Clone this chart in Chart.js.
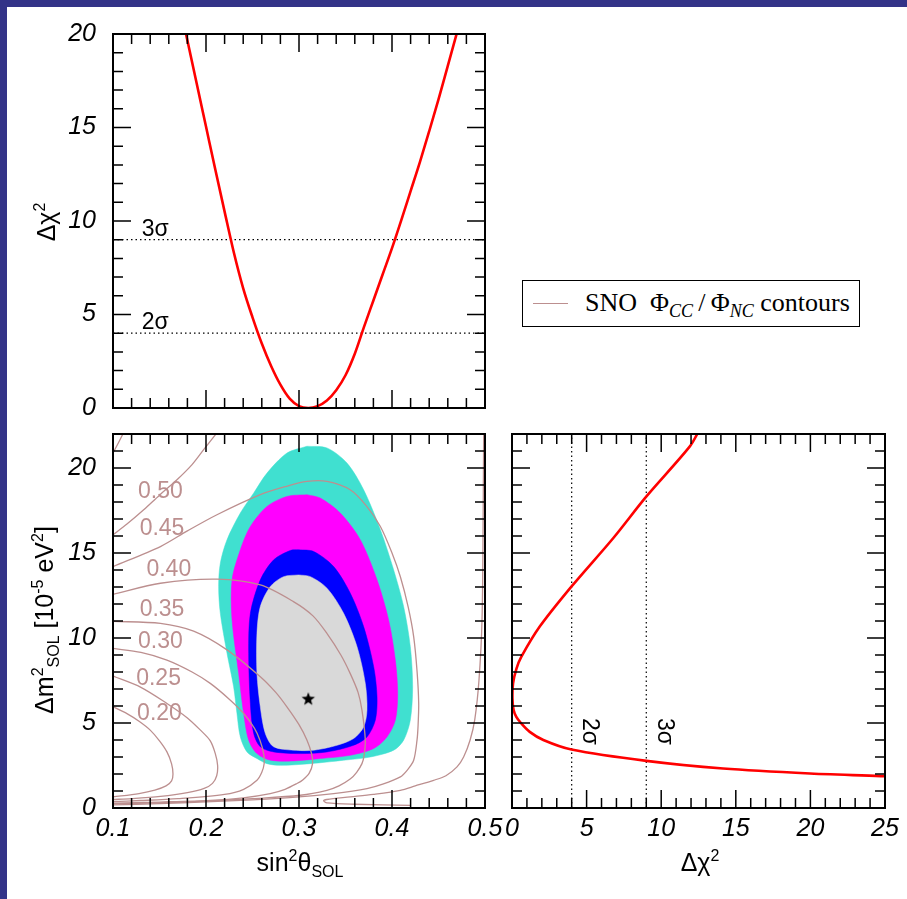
<!DOCTYPE html>
<html>
<head>
<meta charset="utf-8">
<script src="https://cdn.jsdelivr.net/npm/chart.js@4.4.0/dist/chart.umd.min.js"></script>
<style>
  html, body { margin: 0; padding: 0; }
  body { width: 907px; height: 899px; background: #333388; position: relative; overflow: hidden;
         font-family: "Liberation Sans", Arial, sans-serif; }
  #sheet { position: absolute; left: 7px; top: 7px; right: 0; bottom: 0; background: #fff; }
  canvas { position: absolute; }
  .lbl { position: absolute; font-size: 25px; color: #000; white-space: nowrap; line-height: 1; }
  .mid { transform: translate(-50%, -50%); }
  .rot { transform: translate(-50%, -50%) rotate(-90deg); }
  .lbl sup, .lbl sub { font-size: 16px; line-height: 0; }
  #legend { position: absolute; left: 522px; top: 280px; width: 338px; height: 47px; box-sizing: border-box;
            border: 1.5px solid #000; background: #fff; }
  #legend .swatch { position: absolute; left: 10px; top: 22px; width: 35px; border-top: 1px solid #bc8f8f; }
  #legend .txt { position: absolute; left: 62px; top: 6px; font-family: "Liberation Serif", "Times New Roman", serif;
                 font-size: 26px; white-space: nowrap; line-height: 1.2; }
  #legend sub { font-size: 18px; font-style: italic; line-height: 0; }
</style>
</head>
<body>
<div id="sheet"></div>
<canvas id="chiTheta" width="500" height="420" style="left:0;top:0"></canvas>
<canvas id="plane" width="520" height="479" style="left:0;top:420px"></canvas>
<canvas id="chiMass" width="417" height="479" style="left:490px;top:420px"></canvas>

<div class="lbl rot" style="left:46px;top:222px">&Delta;&chi;<sup>2</sup></div>
<div class="lbl rot" style="left:44px;top:620px">&Delta;m<sup>2</sup><sub>SOL</sub> [10<sup>-5</sup> eV<sup>2</sup>]</div>
<div class="lbl mid" style="left:300px;top:862px">sin<sup>2</sup>&theta;<sub>SOL</sub></div>
<div class="lbl mid" style="left:700px;top:862px">&Delta;&chi;<sup>2</sup></div>
<div id="legend"><span class="swatch"></span><span class="txt">SNO&nbsp; &Phi;<sub>CC</sub>&thinsp;/&thinsp;&Phi;<sub>NC</sub> contours</span></div>

<script>
// Δχ² profile versus sin²θ
const sinGrid = [0.1785, 0.19, 0.20, 0.21, 0.22, 0.23, 0.24, 0.25, 0.26, 0.27, 0.28, 0.29, 0.30, 0.31,
                 0.32, 0.33, 0.34, 0.35, 0.36, 0.37, 0.38, 0.39, 0.40, 0.41, 0.42, 0.43, 0.44, 0.45, 0.46, 0.47];
const chiTheta = [20, 17.35, 15.05, 12.75, 10.5, 8.3, 6.4, 4.85, 3.45, 2.25, 1.25, 0.5, 0.1, 0.0,
                  0.1, 0.4, 0.95, 1.75, 2.9, 4.35, 5.75, 7.15, 8.55, 10.05, 11.6, 13.15, 14.8, 16.5, 18.3, 20.1];

// Δχ² profile versus Δm²
const massGrid = [1.87, 2.03, 2.32, 2.77, 3.44, 4.0, 4.48, 5.0, 5.36, 5.8, 6.45, 7.33, 8.2, 8.9,
                  10.67, 13.02, 15.87, 18.33, 21.27, 22.3];
const chiMass = [25, 19.97, 14.15, 9.01, 3.98, 2.1, 1.19, 0.6, 0.29, 0.1, 0.03, 0.07, 0.3, 0.63,
                 1.86, 3.98, 6.78, 9.01, 11.92, 12.6];

const sigmaLevels = [4, 9];
const sigmaNames = ['2\u03c3', '3\u03c3'];

// allowed regions, outer to inner: [sin²θ, Δm²]
const region3 = [[0.3086,21.28],[0.33,21.18],[0.3516,20.29],[0.3695,18.72],[0.3875,16.37],[0.4018,14.0],
  [0.4125,11.85],[0.4197,9.49],[0.4222,7.13],[0.4197,5.17],[0.4125,3.99],[0.4018,3.4],[0.3767,3.0],
  [0.348,2.81],[0.3122,2.61],[0.28,2.51],[0.2656,2.61],[0.2548,2.91],[0.2441,3.3],[0.2369,4.18],
  [0.2333,5.56],[0.2297,7.13],[0.2226,9.1],[0.2154,11.45],[0.2136,13.03],[0.2154,14.4],[0.2226,15.78],
  [0.2369,17.35],[0.2513,18.53],[0.2656,19.7],[0.2871,20.88],[0.3086,21.28]];
const region2 = [[0.3086,18.43],[0.3229,18.23],[0.3444,17.35],[0.3659,15.78],[0.3839,13.42],[0.3964,11.06],
  [0.4036,8.7],[0.4061,6.74],[0.4036,5.17],[0.3946,4.18],[0.3803,3.5],[0.3552,3.1],[0.3229,2.91],
  [0.2943,2.77],[0.2692,2.81],[0.2548,3.2],[0.2459,3.99],[0.2405,5.56],[0.2351,7.92],[0.228,11.06],
  [0.228,13.42],[0.2369,15.19],[0.2477,16.56],[0.2656,17.74],[0.2871,18.33],[0.3086,18.43]];
const region1 = [[0.2996,15.19],[0.3158,15.09],[0.3373,14.2],[0.3552,12.63],[0.3695,10.67],[0.3803,8.31],
  [0.3839,6.54],[0.3821,5.17],[0.3731,4.18],[0.3588,3.69],[0.3301,3.3],[0.3014,3.2],[0.2728,3.3],
  [0.2584,3.6],[0.2513,4.38],[0.2477,6.15],[0.2459,9.1],[0.2477,11.45],[0.2584,13.42],[0.2728,14.6],
  [0.2907,15.15],[0.2996,15.19]];
const region0 = [[0.2996,13.71],[0.3122,13.61],[0.3301,12.93],[0.348,11.45],[0.3624,9.49],[0.3713,7.33],
  [0.3731,5.76],[0.3695,4.77],[0.3588,4.09],[0.3409,3.69],[0.3158,3.4],[0.2943,3.4],[0.2728,3.6],
  [0.2638,4.38],[0.2584,5.95],[0.2548,7.92],[0.2548,10.28],[0.2584,11.85],[0.2692,13.03],[0.2835,13.61],
  [0.2996,13.71]];
const bestFit = [0.31, 6.4];

// SNO CC/NC ratio contours: [sin²θ, Δm²]
const c020 = [[0.1,5.95],[0.115,5.55],[0.128,5.1],[0.14,4.58],[0.15,3.95],[0.158,3.3],[0.163,2.6],[0.1645,2.0],
  [0.163,1.6],[0.157,1.3],[0.145,1.05],[0.128,0.85],[0.1,0.65]];
const c025 = [[0.1,7.76],[0.13,7.1],[0.158,6.15],[0.18,5.3],[0.194,4.58],[0.2046,3.95],[0.21,3.2],[0.2125,2.5],
  [0.2115,1.9],[0.207,1.45],[0.198,1.15],[0.18,0.9],[0.151,0.68],[0.12,0.55],[0.1,0.5]];
const c030 = [[0.1,9.39],[0.13,9.15],[0.158,8.7],[0.185,8.0],[0.2046,7.33],[0.225,6.4],[0.2405,5.56],[0.252,4.7],
  [0.258,3.99],[0.262,3.2],[0.2625,2.6],[0.26,2.1],[0.2548,1.63],[0.2405,1.1],[0.22,0.8],[0.17,0.55],
  [0.13,0.44],[0.1,0.38]];
const c035 = [[0.1,10.98],[0.151,10.86],[0.1867,10.4],[0.2226,9.3],[0.2584,7.72],[0.275,6.8],[0.287,5.95],
  [0.3,4.9],[0.3086,3.99],[0.3135,3.2],[0.3145,2.6],[0.311,2.05],[0.304,1.65],[0.2978,1.44],[0.285,1.1],
  [0.2691,0.85],[0.24,0.6],[0.2046,0.45],[0.15,0.35],[0.1,0.28]];
const c040 = [[0.1,12.57],[0.151,13.22],[0.2118,13.46],[0.2584,13.12],[0.294,12.14],[0.315,11.3],[0.33,10.27],
  [0.345,9.0],[0.355,7.92],[0.3635,6.8],[0.3677,5.76],[0.3713,3.99],[0.37,3.1],[0.3677,2.61],[0.362,2.1],
  [0.355,1.7],[0.343,1.3],[0.33,1.04],[0.3014,0.75],[0.25,0.55],[0.2,0.4],[0.15,0.3],[0.1,0.24]];
const c045 = [[0.1,14.2],[0.151,15.38],[0.18,16.3],[0.2118,17.25],[0.2584,18.43],[0.285,18.9],[0.3086,19.21],
  [0.33,19.21],[0.355,18.72],[0.372,17.8],[0.3875,16.56],[0.4,15.0],[0.409,13.6],[0.4175,11.8],[0.4233,10.08],
  [0.427,8.0],[0.4287,6.15],[0.428,4.8],[0.4269,3.99],[0.4233,2.81],[0.416,2.2],[0.409,1.83],[0.39,1.4],
  [0.3731,1.14],[0.3372,0.85],[0.3,0.65],[0.25,0.48],[0.2,0.36],[0.15,0.26],[0.1,0.18]];
const c050 = [[0.1,16.07],[0.115,16.7],[0.133,17.54],[0.15,18.4],[0.1688,19.31],[0.185,20.2],[0.1975,21.08],
  [0.2136,22.2]];
const c055 = [[0.1,20.88],[0.106,21.5],[0.1125,22.2]];
const c060 = [[0.4986,22.2],[0.498,17],[0.4968,11.06],[0.4935,7.5],[0.489,5.2],[0.484,4.0],[0.477,3.0],
  [0.4699,2.42],[0.458,1.9],[0.4448,1.63],[0.425,1.3],[0.409,1.04],[0.38,0.8],[0.3552,0.65],[0.33,0.5],
  [0.3265,0.42],[0.33,0.3],[0.36,0.22],[0.42,0.15]];

const contourLabels = ['0.50', '0.45', '0.40', '0.35', '0.30', '0.25', '0.20'];
const contourLabelAt = [[0.151,18.62],[0.1527,16.46],[0.16,14.0],[0.1527,11.65],[0.151,9.78],[0.149,7.63],[0.15,5.56]];

const RED = '#ff0000';
const ROSY = '#bc8f8f';
const tickFont = {family: "'Liberation Sans', Arial, sans-serif", size: 25, style: 'italic'};

Chart.defaults.animation = false;
Chart.defaults.responsive = false;
Chart.defaults.plugins.legend.display = false;
Chart.defaults.plugins.tooltip.enabled = false;
Chart.defaults.color = '#000';

const toXY = pts => pts.map(([x, y]) => ({x, y}));

// keep the plot box where the layout padding puts it
const fixY = w => s => { s.width = w; s.paddingTop = 0; s.paddingBottom = 0; };
const fixX = h => s => { s.height = h; s.paddingLeft = 0; s.paddingRight = 0; };

// box with inward major/minor ticks on all four sides
const frameTicks = {
  id: 'frameTicks',
  afterDatasetsDraw(chart, args, opts) {
    const {ctx, chartArea: a, scales: {x, y}} = chart;
    const isMajor = (v, step) => Math.abs(v / step - Math.round(v / step)) < 1e-6;
    ctx.save();
    ctx.strokeStyle = '#000';
    ctx.lineWidth = 1.5;
    ctx.beginPath();
    const nx = Math.round((x.max - x.min) / opts.xMinor);
    for (let i = 0; i <= nx; i++) {
      const v = x.min + i * opts.xMinor;
      const px = x.getPixelForValue(v);
      const len = isMajor(v, opts.xMajor) ? 18 : 10;
      ctx.moveTo(px, a.bottom); ctx.lineTo(px, a.bottom - len);
      ctx.moveTo(px, a.top); ctx.lineTo(px, a.top + len);
    }
    const ny = Math.round((y.max - y.min) / opts.yMinor);
    for (let i = 0; i <= ny; i++) {
      const v = y.min + i * opts.yMinor;
      const py = y.getPixelForValue(v);
      const len = isMajor(v, opts.yMajor) ? 18 : 10;
      ctx.moveTo(a.left, py); ctx.lineTo(a.left + len, py);
      ctx.moveTo(a.right, py); ctx.lineTo(a.right - len, py);
    }
    ctx.stroke();
    ctx.lineWidth = 2;
    ctx.strokeRect(a.left, a.top, a.right - a.left, a.bottom - a.top);
    ctx.restore();
  }
};

// text placed at data coordinates
const notes = {
  id: 'notes',
  afterDatasetsDraw(chart, args, opts) {
    if (!opts.items) return;
    const {ctx, scales: {x, y}} = chart;
    for (const it of opts.items) {
      ctx.save();
      ctx.font = it.font;
      ctx.fillStyle = it.color || '#000';
      ctx.textAlign = 'center';
      ctx.textBaseline = 'middle';
      ctx.translate(x.getPixelForValue(it.x), y.getPixelForValue(it.y));
      ctx.rotate(it.rot || 0);
      ctx.fillText(it.text, 0, 0);
      ctx.restore();
    }
  }
};

function starMark(r) {
  const c = document.createElement('canvas');
  c.width = c.height = 2 * r + 2;
  const g = c.getContext('2d');
  g.beginPath();
  for (let i = 0; i < 10; i++) {
    const rad = i % 2 ? r * 0.42 : r;
    const t = -Math.PI / 2 + i * Math.PI / 5;
    const px = r + 1 + rad * Math.cos(t), py = r + 1 + rad * Math.sin(t);
    if (i) g.lineTo(px, py); else g.moveTo(px, py);
  }
  g.closePath();
  g.fillStyle = '#000';
  g.fill();
  return c;
}

const dotted = pts => ({data: pts, showLine: true, borderColor: '#000', borderWidth: 1.2,
  borderDash: [1.5, 3], pointRadius: 0, fill: false, tension: 0});

const sigmaFont = "23px 'Liberation Sans', Arial, sans-serif";

// top: Δχ² vs sin²θ
new Chart(document.getElementById('chiTheta'), {
  type: 'scatter',
  data: {
    datasets: [
      {data: sinGrid.map((s, i) => ({x: s, y: chiTheta[i]})), showLine: true, borderColor: RED,
       borderWidth: 2.6, pointRadius: 0, cubicInterpolationMode: 'monotone'},
      ...sigmaLevels.map(l => dotted([{x: 0.1, y: l}, {x: 0.5, y: l}]))
    ]
  },
  options: {
    layout: {padding: {top: 34, right: 15, bottom: 12, left: 0}},
    scales: {
      x: {display: false, min: 0.1, max: 0.5},
      y: {min: 0, max: 20, grid: {display: false}, border: {display: false},
          ticks: {stepSize: 5, padding: 9, font: tickFont},
          afterFit: fixY(113)}
    },
    plugins: {
      frameTicks: {xMajor: 0.1, xMinor: 0.02, yMajor: 5, yMinor: 1},
      notes: {items: sigmaLevels.map((l, i) => ({x: 0.1455, y: l + 0.55, text: sigmaNames[i], font: sigmaFont}))}
    }
  },
  plugins: [frameTicks, notes]
});

// bottom left: allowed regions in the (sin²θ, Δm²) plane
const region = (pts, color, order) => ({data: toXY(pts), showLine: true, fill: 'shape', backgroundColor: color,
  borderColor: color, borderWidth: 0.5, pointRadius: 0, tension: 0.3, order});
const contour = pts => ({data: toXY(pts), showLine: true, borderColor: ROSY, borderWidth: 1.3,
  pointRadius: 0, fill: false, tension: 0.3, order: 5});

new Chart(document.getElementById('plane'), {
  type: 'scatter',
  data: {
    datasets: [
      {data: [{x: bestFit[0], y: bestFit[1]}], pointStyle: starMark(7), pointRadius: 7, order: 0},
      ...[c020, c025, c030, c035, c040, c045, c050, c055, c060].map(contour),
      region(region0, '#d9d9d9', 7),
      region(region1, '#0000ff', 8),
      region(region2, '#ff00ff', 9),
      region(region3, '#40e0d0', 10)
    ]
  },
  options: {
    layout: {padding: {top: 14, right: 35, bottom: 0, left: 0}},
    scales: {
      x: {min: 0.1, max: 0.5, grid: {display: false}, border: {display: false},
          ticks: {stepSize: 0.1, padding: -2, font: tickFont, autoSkip: false, maxRotation: 0,
                  callback: v => v.toFixed(1)},
          afterFit: fixX(91)},
      y: {min: 0, max: 22, grid: {display: false}, border: {display: false},
          ticks: {stepSize: 5, padding: 9, font: tickFont, includeBounds: false},
          afterFit: fixY(113)}
    },
    plugins: {
      frameTicks: {xMajor: 0.1, xMinor: 0.02, yMajor: 5, yMinor: 1},
      notes: {items: contourLabels.map((t, i) => ({x: contourLabelAt[i][0], y: contourLabelAt[i][1], text: t,
        color: ROSY, font: "23px 'Liberation Sans', Arial, sans-serif"}))}
    }
  },
  plugins: [frameTicks, notes]
});

// bottom right: Δm² vs Δχ²
new Chart(document.getElementById('chiMass'), {
  type: 'scatter',
  data: {
    datasets: [
      {data: massGrid.map((m, i) => ({x: chiMass[i], y: m})), showLine: true, borderColor: RED,
       borderWidth: 2.6, pointRadius: 0, tension: 0.3},
      ...sigmaLevels.map(l => dotted([{x: l, y: 0}, {x: l, y: 22}]))
    ]
  },
  options: {
    layout: {padding: {top: 14, right: 22, bottom: 0, left: 22}},
    scales: {
      x: {min: 0, max: 25, grid: {display: false}, border: {display: false},
          ticks: {stepSize: 5, padding: -2, font: tickFont, autoSkip: false, maxRotation: 0},
          afterFit: fixX(91)},
      y: {display: false, min: 0, max: 22}
    },
    plugins: {
      frameTicks: {xMajor: 5, xMinor: 1, yMajor: 5, yMinor: 1},
      notes: {items: sigmaLevels.map((l, i) => ({x: l + 1.2, y: 4.5, text: sigmaNames[i], font: sigmaFont,
        rot: Math.PI / 2}))}
    }
  },
  plugins: [frameTicks, notes]
});
</script>
</body>
</html>
